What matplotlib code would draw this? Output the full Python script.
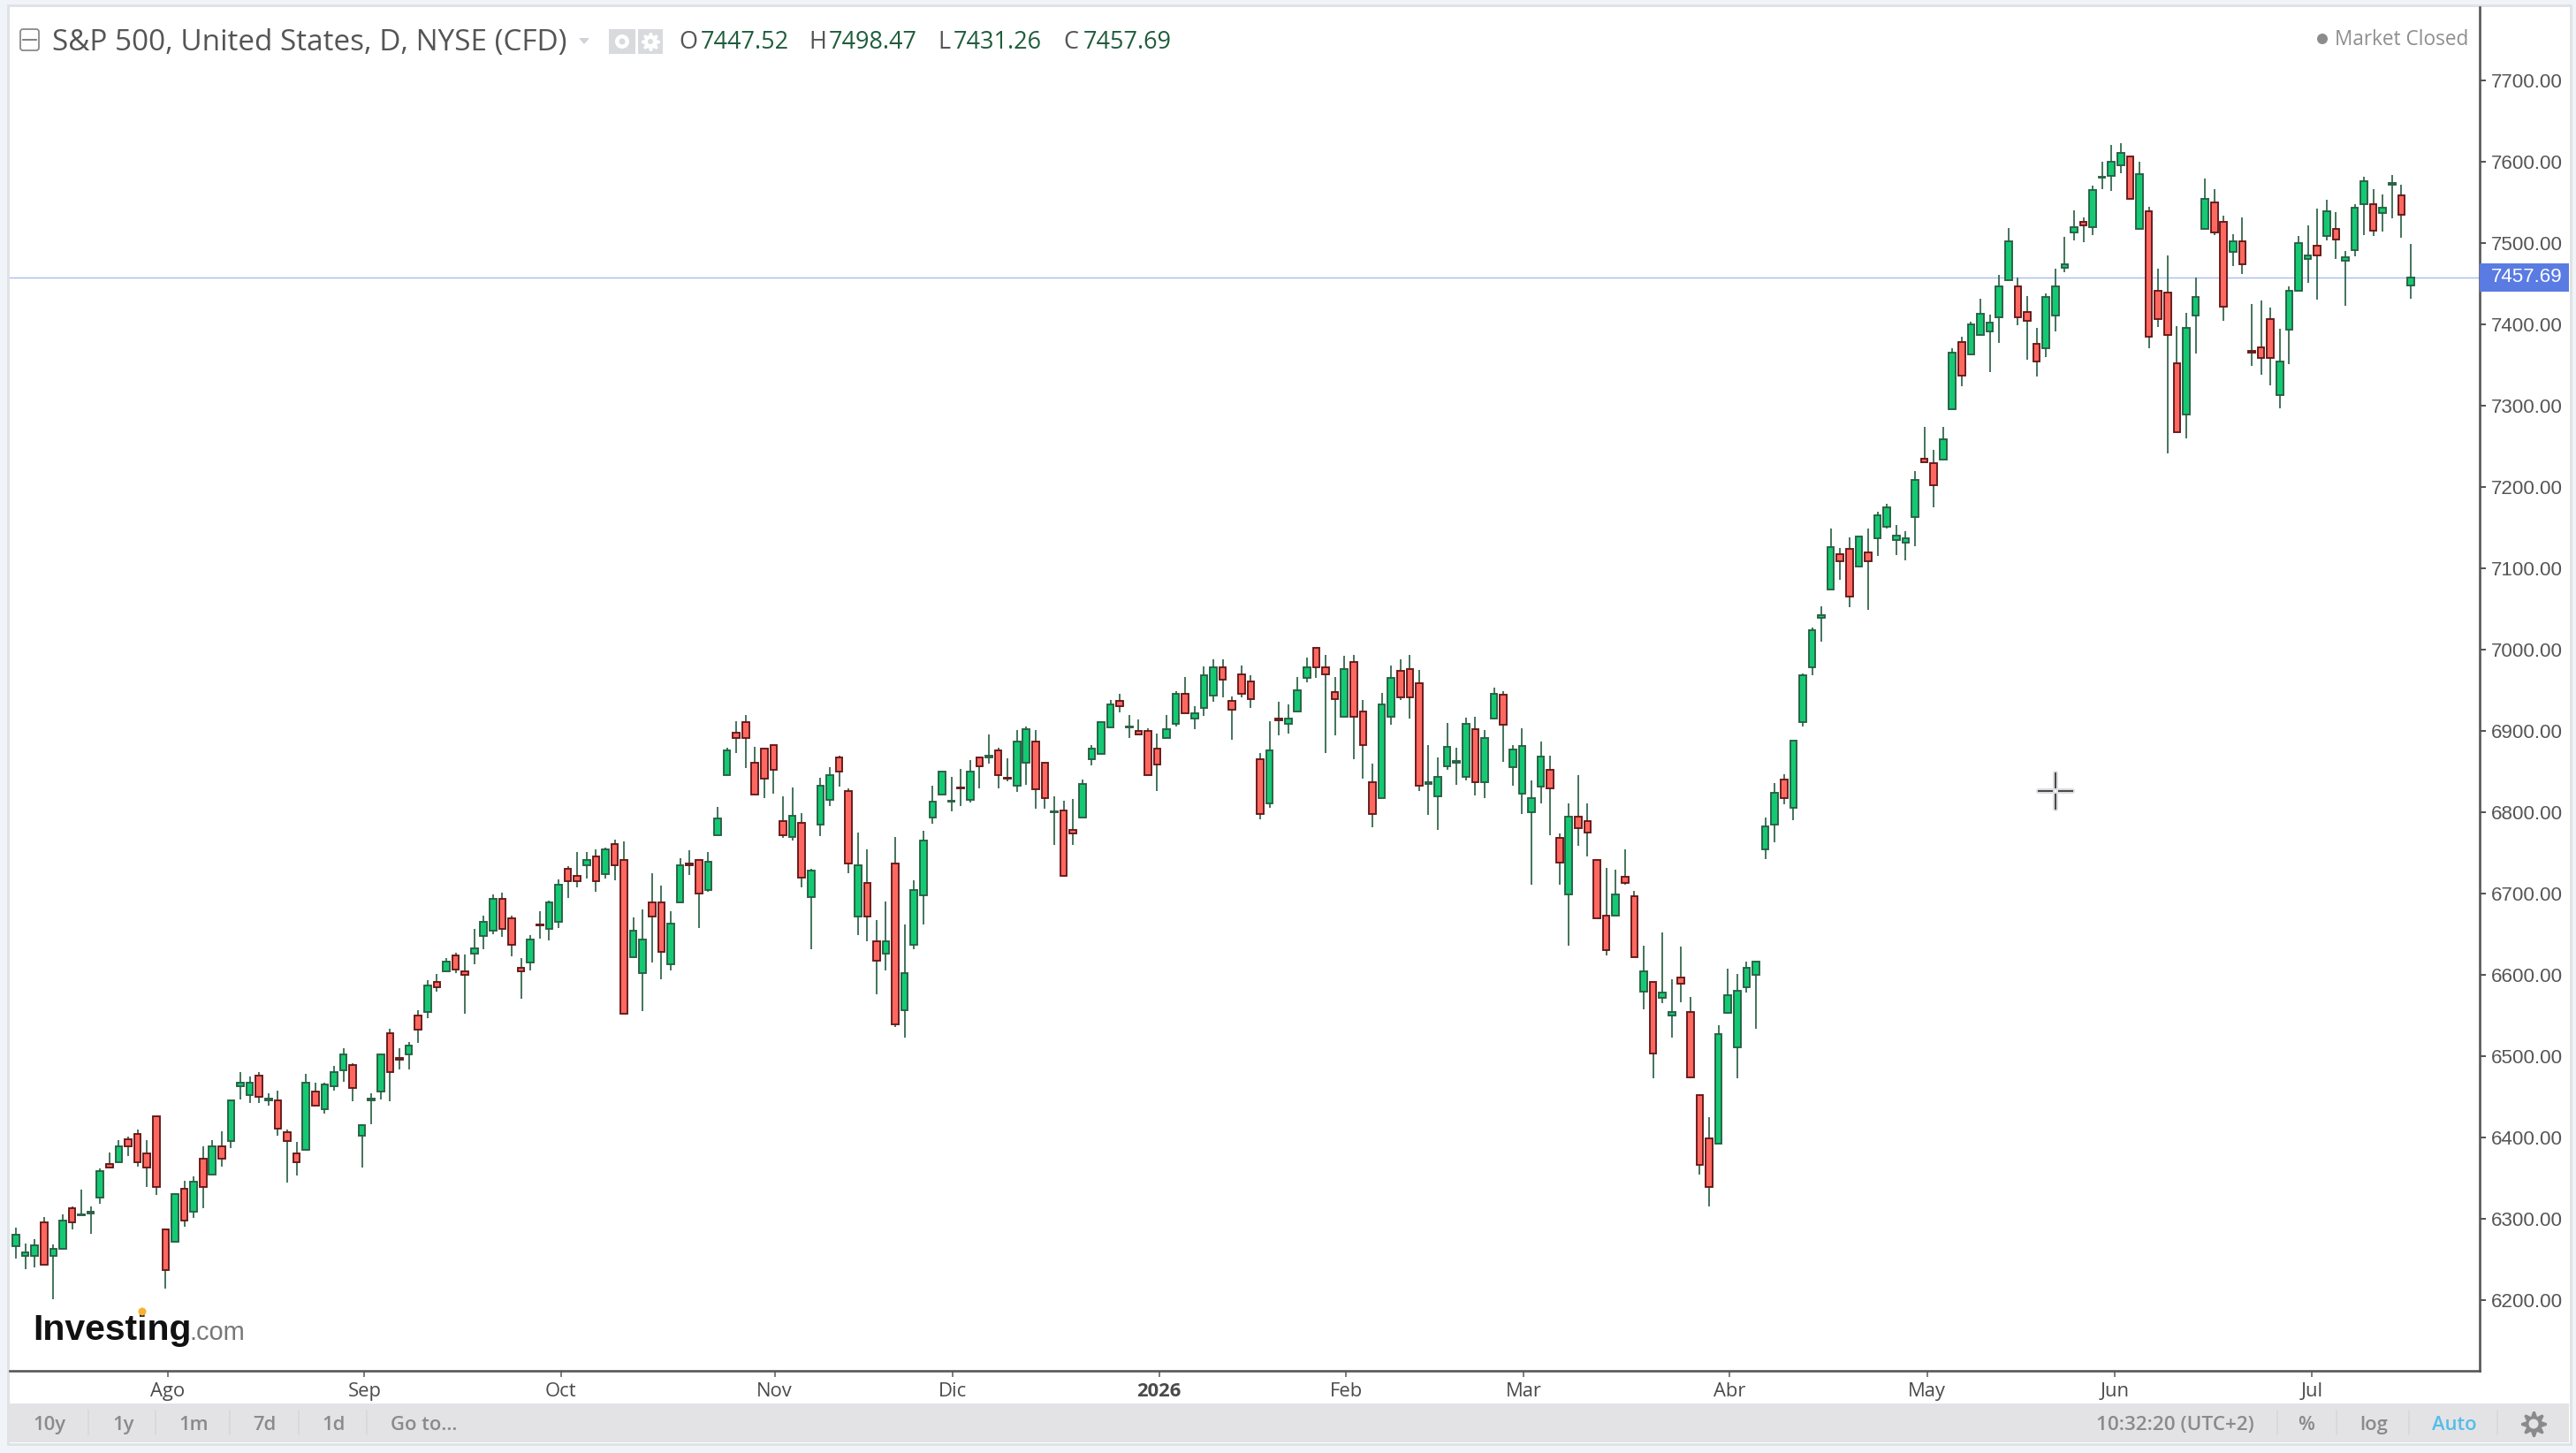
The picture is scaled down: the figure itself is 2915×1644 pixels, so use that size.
import numpy as np
import matplotlib
matplotlib.use("Agg")
import matplotlib.pyplot as plt
from matplotlib.patches import Rectangle, Circle, FancyBboxPatch
from matplotlib.transforms import blended_transform_factory

# daily S&P 500 candles
opens = [6267,6255,6255,6296,6255,6263,6313,6305,6307,6326,
6368,6370,6398,6405,6381,6426,6287,6272,6337,6309,
6374,6355,6390,6396,6463,6452,6476,6446,6446,6407,
6381,6385,6457,6435,6463,6483,6489,6402,6446,6457,
6529,6498,6502,6550,6555,6592,6605,6624,6605,6626,
6648,6655,6694,6670,6609,6615,6662,6657,6665,6731,
6722,6735,6746,6724,6761,6742,6622,6602,6689,6689,
6613,6689,6737,6742,6705,6772,6846,6898,6911,6861,
6878,6883,6789,6770,6787,6696,6785,6815,6867,6826,
6672,6713,6641,6626,6737,6557,6637,6698,6794,6822,
6813,6831,6815,6867,6867,6876,6842,6833,6861,6887,
6861,6800,6802,6778,6794,6865,6872,6904,6937,6904,
6900,6900,6878,6891,6909,6946,6915,6928,6944,6978,
6937,6970,6961,6865,6811,6915,6909,6924,6965,7002,
6978,6948,6918,6985,6924,6837,6818,6918,6974,6976,
6959,6835,6820,6857,6861,6844,6902,6837,6915,6945,
6856,6823,6800,6832,6852,6769,6699,6795,6789,6741,
6673,6673,6721,6697,6580,6592,6572,6550,6597,6555,
6453,6399,6393,6554,6511,6585,6600,6755,6785,6840,
6806,6911,6978,7039,7074,7117,7124,7102,7120,7137,
7151,7135,7132,7163,7235,7229,7234,7295,7378,7363,
7387,7391,7409,7454,7446,7415,7376,7370,7411,7469,
7513,7526,7519,7580,7582,7595,7606,7517,7539,7441,
7439,7352,7289,7411,7517,7550,7526,7489,7502,7367,
7372,7406,7313,7393,7441,7480,7496,7509,7517,7478,
7491,7548,7548,7537,7571,7558,7447.52]

highs = [6290,6270,6275,6303,6269,6306,6316,6336,6316,6362,
6382,6397,6401,6410,6397,6426,6287,6331,6347,6353,
6390,6397,6408,6446,6481,6475,6481,6455,6458,6410,
6395,6479,6468,6468,6488,6510,6492,6416,6455,6502,
6534,6510,6518,6557,6594,6601,6621,6627,6625,6657,
6673,6699,6701,6673,6621,6649,6679,6692,6718,6734,
6751,6751,6755,6757,6766,6764,6671,6681,6725,6710,
6679,6744,6753,6742,6751,6807,6879,6912,6920,6881,
6878,6883,6820,6831,6799,6731,6842,6855,6870,6829,
6775,6755,6668,6690,6770,6662,6716,6777,6833,6850,
6844,6853,6864,6867,6896,6879,6866,6901,6905,6901,
6861,6820,6814,6816,6840,6883,6911,6938,6946,6920,
6914,6903,6897,6920,6949,6966,6931,6979,6988,6988,
6942,6981,6968,6873,6912,6936,6933,6966,6990,7002,
6994,6966,6992,6994,6938,6860,6947,6981,6988,6994,
6975,6883,6868,6910,6879,6916,6918,6901,6953,6949,
6883,6903,6839,6887,6870,6774,6811,6846,6811,6741,
6732,6730,6754,6703,6636,6592,6652,6595,6635,6573,
6453,6425,6538,6608,6601,6617,6616,6794,6836,6847,
6888,6971,7027,7053,7149,7125,7138,7139,7149,7170,
7179,7153,7146,7220,7274,7246,7274,7370,7385,7403,
7431,7412,7461,7518,7457,7435,7396,7438,7468,7507,
7540,7531,7570,7600,7620,7622,7606,7600,7544,7468,
7485,7398,7414,7457,7579,7566,7533,7511,7531,7425,
7429,7420,7394,7446,7509,7522,7542,7553,7538,7490,
7548,7581,7566,7559,7583,7572,7498.47]

lows = [6252,6239,6241,6244,6202,6263,6287,6305,6282,6319,
6363,6370,6378,6365,6339,6330,6215,6272,6291,6302,
6313,6355,6365,6387,6447,6443,6443,6439,6402,6345,
6354,6385,6439,6430,6458,6469,6445,6363,6417,6447,
6445,6484,6484,6517,6547,6580,6605,6602,6552,6613,
6632,6650,6647,6623,6571,6606,6645,6643,6658,6695,
6708,6719,6702,6719,6717,6552,6622,6556,6615,6595,
6606,6689,6723,6658,6702,6772,6846,6873,6854,6822,
6817,6823,6769,6765,6708,6632,6771,6808,6832,6725,
6649,6641,6576,6606,6536,6523,6632,6662,6786,6822,
6801,6808,6812,6830,6860,6830,6838,6825,6834,6804,
6804,6760,6722,6760,6794,6858,6872,6904,6923,6891,
6896,6846,6826,6891,6906,6922,6902,6919,6936,6941,
6889,6941,6928,6791,6806,6895,6897,6924,6960,6965,
6873,6895,6918,6865,6841,6782,6818,6908,6938,6915,
6826,6797,6778,6852,6834,6839,6821,6817,6915,6862,
6833,6798,6711,6811,6772,6711,6636,6759,6746,6670,
6624,6673,6711,6622,6558,6473,6565,6523,6567,6474,
6355,6316,6393,6554,6473,6579,6534,6743,6763,6810,
6790,6906,6968,7010,7074,7086,7052,7102,7049,7115,
7149,7116,7110,7127,7230,7175,7234,7295,7324,7363,
7387,7341,7377,7454,7399,7356,7336,7360,7391,7464,
7503,7501,7510,7566,7564,7586,7554,7517,7371,7397,
7241,7267,7260,7364,7517,7510,7404,7471,7462,7349,
7338,7325,7297,7351,7441,7451,7430,7503,7480,7423,
7484,7510,7508,7514,7530,7506,7431.26]

closes = [6281,6259,6268,6244,6263,6298,6296,6306,6309,6359,
6363,6390,6390,6370,6363,6340,6237,6331,6298,6346,
6340,6390,6374,6446,6468,6468,6450,6448,6411,6396,
6370,6468,6439,6466,6481,6502,6461,6416,6448,6502,
6481,6496,6513,6533,6587,6585,6616,6607,6600,6633,
6665,6694,6657,6637,6605,6644,6661,6689,6711,6715,
6715,6742,6715,6755,6735,6552,6655,6644,6672,6628,
6663,6735,6735,6700,6739,6792,6876,6891,6891,6822,
6841,6852,6772,6796,6720,6728,6833,6846,6850,6737,
6735,6672,6618,6641,6539,6602,6704,6765,6813,6850,
6814,6830,6850,6857,6870,6846,6841,6887,6902,6828,
6817,6801,6722,6774,6835,6878,6911,6933,6930,6906,
6896,6846,6859,6902,6946,6922,6922,6968,6978,6963,
6926,6946,6939,6798,6876,6913,6915,6950,6978,6978,
6970,6939,6976,6918,6883,6798,6933,6965,6941,6941,
6833,6837,6844,6881,6863,6909,6837,6891,6946,6908,
6877,6882,6817,6869,6829,6738,6795,6781,6775,6670,
6631,6699,6713,6622,6605,6504,6579,6555,6589,6474,
6367,6340,6527,6575,6581,6609,6616,6783,6824,6818,
6888,6968,7024,7042,7126,7109,7065,7139,7109,7165,
7175,7140,7137,7209,7230,7202,7259,7365,7337,7400,
7413,7402,7446,7502,7409,7404,7354,7433,7446,7474,
7519,7522,7565,7581,7600,7611,7554,7585,7385,7406,
7387,7267,7396,7433,7554,7513,7422,7502,7474,7365,
7359,7359,7354,7441,7500,7485,7485,7539,7504,7482,
7543,7576,7515,7543,7574,7535,7457.69]

month_pos = [16.25, 37.25, 58.25, 81.1, 100.15, 122.2, 142.2, 161.2, 183.2, 204.3, 224.4, 245.4]
month_labels = ["Ago", "Sep", "Oct", "Nov", "Dic", "2026", "Feb", "Mar", "Abr", "May", "Jun", "Jul"]
price_ticks = list(range(6200, 7800, 100))
ohlc_heads = ["O", "H", "L", "C"]
ohlc_vals = ["7447.52", "7498.47", "7431.26", "7457.69"]
range_btns = ["10y", "1y", "1m", "7d", "1d"]

W, H = 2915, 1644
DPI = 200
px = 72 / DPI   # one pixel in points
sans = "Open Sans"
arial = "Liberation Sans"

up_fill, up_edge = "#14c973", "#2a6045"
dn_fill, dn_edge = "#ff6860", "#661a1a"
axis_col = "#555555"
page_col = "#f0f3f7"
bar_col = "#e3e3e6"
grey_txt = "#8a8a8a"
step = 10.586

fig = plt.figure(figsize=(W / DPI, H / DPI), dpi=DPI)
fig.patch.set_facecolor(page_col)


def pixel_axes(z):
    a = fig.add_axes([0, 0, 1, 1], zorder=z)
    a.set_xlim(0, W)
    a.set_ylim(H, 0)
    a.axis("off")
    a.patch.set_alpha(0)
    return a


under = pixel_axes(0)
over = pixel_axes(2)

# frame and toolbar strip
under.add_patch(Rectangle((9, 6), 2900, 1628, fc="white", ec="#dfe3e6", lw=3 * px))
under.add_patch(Rectangle((11, 1588), 2896, 44, fc=bar_col, ec="none"))

# chart area
left, right, top, bottom = 11, 2806, 8, 1551
ax = fig.add_axes([left / W, 1 - bottom / H, (right - left) / W, (bottom - top) / H], zorder=1)

o, h, l, c = map(np.array, (opens, highs, lows, closes))
x = np.arange(len(o))
up = c >= o

ax.vlines(x, l, h, color=up_edge, lw=1.7 * px, zorder=2, snap=True)
ax.bar(x[up], (c - o)[up], bottom=o[up], width=0.72, color=up_fill,
       edgecolor=up_edge, linewidth=1.9 * px, zorder=3)
ax.bar(x[~up], (o - c)[~up], bottom=c[~up], width=0.72, color=dn_fill,
       edgecolor=dn_edge, linewidth=1.9 * px, zorder=3)

ax.set_xlim((left - 18) / step, (right - 18) / step)
ax.set_ylim(7700 - (bottom - 90.7) * 1.0864, 7700 + (90.7 - top) * 1.0864)

for s in ("left", "top"):
    ax.spines[s].set_visible(False)
for s in ("right", "bottom"):
    ax.spines[s].set_color(axis_col)
    ax.spines[s].set_linewidth(2.6 * px)

ax.yaxis.tick_right()
ax.set_yticks(price_ticks)
ax.set_yticklabels(["%.2f" % t for t in price_ticks], fontfamily=arial, fontsize=22.4 * px, color="#555555")
ax.set_xticks(month_pos)
ax.set_xticklabels(month_labels, fontfamily=sans, fontsize=22 * px, color="#4a4a4a")
ax.get_xticklabels()[5].set_fontweight("bold")
ax.tick_params(axis="y", length=7 * px, width=2 * px, color=axis_col, pad=6 * px)
ax.tick_params(axis="x", length=7 * px, width=1.5 * px, color=axis_col, pad=6 * px)

# last price line and tag
last = closes[-1]
ax.axhline(last, color="#a9bcf3", lw=1.4 * px, zorder=1)
tr = blended_transform_factory(ax.transAxes, ax.transData)
ax.add_patch(Rectangle((1, last - 17.4), 101 / (right - left), 34.8, transform=tr,
                       fc="#5a7be2", ec="none", clip_on=False, zorder=5))
ax.text(1 + 13 / (right - left), last, "%.2f" % last, transform=tr, va="center", ha="left",
        fontfamily=arial, fontsize=22.4 * px, color="white", zorder=6)

# legend row
over.add_patch(FancyBboxPatch((23, 33), 21, 24, boxstyle="round,pad=0,rounding_size=3",
                              fc="white", ec="#8a8a8a", lw=1.8 * px))
over.plot([26, 41], [45, 45], color="#777777", lw=1.8 * px)
over.text(59, 48, "S&P 500, United States, D, NYSE (CFD)", fontfamily=sans, fontsize=33.3 * px,
          color="#555555", va="center", ha="left")
over.fill([655, 667, 661], [43, 43, 50], color="#cfd2d6", lw=0)
over.add_patch(Rectangle((689, 33), 30, 28, fc="#d8dadd", ec="none"))
over.add_patch(Rectangle((722, 33), 28, 28, fc="#d8dadd", ec="none"))
over.add_patch(Circle((704, 47), 8, fc="white", ec="none"))
over.add_patch(Circle((704, 47), 3.5, fc="#d8dadd", ec="none"))
over.plot([736], [47], marker=(8, 1, 0), ms=20 * px, mfc="white", mec="white")
over.add_patch(Circle((736, 47), 3, fc="#d8dadd", ec="none", zorder=5))

head_x = [768, 915, 1061, 1203]
val_x = [793, 938, 1079, 1226]
for hd, hx, val, vx in zip(ohlc_heads, head_x, ohlc_vals, val_x):
    over.text(hx, 48, hd, fontfamily=sans, fontsize=27 * px, color="#555555", va="center", ha="left")
    over.text(vx, 48, val, fontfamily=sans, fontsize=27 * px, color="#1f5c3a", va="center", ha="left")

over.add_patch(Circle((2628, 44), 6, fc="#8c8c8c", ec="none"))
over.text(2642, 45, "Market Closed", fontfamily=sans, fontsize=22.6 * px, color="#8f8f8f", va="center", ha="left")

# Investing.com mark
over.text(37, 1516, "Investing", fontfamily=arial, fontweight="bold", fontsize=41 * px, color="#111111",
          va="baseline", ha="left")
over.text(214, 1516, ".com", fontfamily=arial, fontsize=29 * px, color="#777777", va="baseline", ha="left")
over.add_patch(Circle((161, 1484), 4.5, fc="#f9b233", ec="none", zorder=5))

# pointer cross
cx, cy = 2326, 895
for xs, ys in (([cx - 19, cx - 4], [cy, cy]), ([cx + 4, cx + 19], [cy, cy]),
               ([cx, cx], [cy - 20, cy - 4]), ([cx, cx], [cy + 4, cy + 20])):
    over.plot(xs, ys, color="#dcdce0", lw=6 * px, solid_capstyle="round")
    over.plot(xs, ys, color="#4a4a4a", lw=2 * px)

# toolbar
btn_x = [56, 140, 219, 299, 378]
for b, bx in zip(range_btns, btn_x):
    over.text(bx, 1612, b, fontfamily=sans, fontweight="semibold", fontsize=22 * px, color=grey_txt,
              va="center", ha="center")
over.text(442, 1612, "Go to...", fontfamily=sans, fontweight="semibold", fontsize=22 * px, color=grey_txt,
          va="center", ha="left")
for sx in [100, 176, 260, 338, 415, 2577, 2644, 2726, 2826]:
    over.plot([sx, sx], [1596, 1623], color="#d6d6d9", lw=1.5 * px)
over.text(2551, 1612, "10:32:20 (UTC+2)", fontfamily=sans, fontweight="semibold", fontsize=22.5 * px, color=grey_txt, va="center", ha="right")
over.text(2610, 1612, "%", fontfamily=sans, fontweight="semibold", fontsize=22 * px, color=grey_txt, va="center", ha="center")
over.text(2686, 1612, "log", fontfamily=sans, fontweight="semibold", fontsize=22 * px, color=grey_txt, va="center", ha="center")
over.text(2777, 1612, "Auto", fontfamily=sans, fontweight="semibold", fontsize=22 * px, color="#55bde8", va="center", ha="center")
over.plot([2867], [1611], marker=(8, 1, 0), ms=28 * px, mfc="#8a8a8a", mec="#8a8a8a")
over.add_patch(Circle((2867, 1611), 8, fc="#8a8a8a", ec="none", zorder=4))
over.add_patch(Circle((2867, 1611), 5.5, fc=bar_col, ec="none", zorder=5))

fig.savefig("out.png", dpi=DPI, facecolor=fig.get_facecolor())
